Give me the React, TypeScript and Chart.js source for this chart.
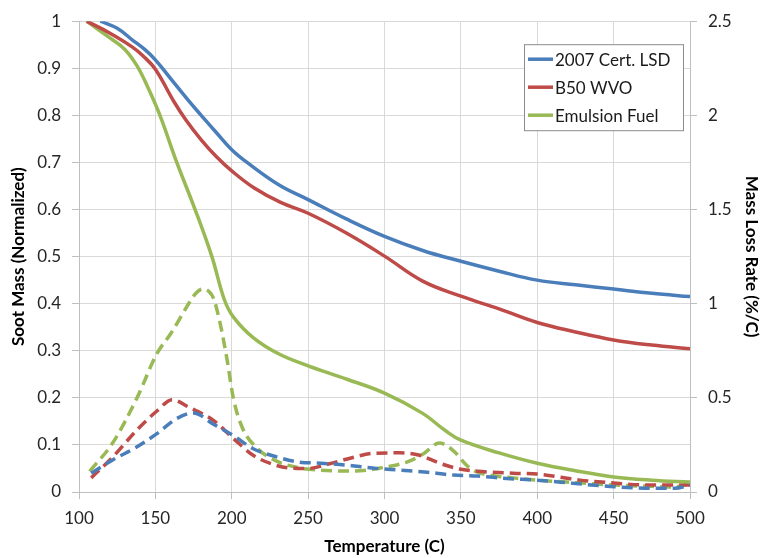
import React, { useEffect, useRef } from "react";
import { Chart, registerables } from "chart.js";

Chart.register(...registerables);

// Soot mass (normalized), left axis
const lsdT = [114, 125, 135, 143, 150, 160, 172, 180, 190, 200, 210, 231, 250, 275, 300, 325, 350, 375, 400, 425, 450, 475, 500];
const lsdMass = [1.0, 0.985, 0.96, 0.94, 0.918, 0.878, 0.83, 0.8, 0.763, 0.727, 0.7, 0.652, 0.621, 0.58, 0.543, 0.513, 0.49, 0.469, 0.45, 0.44, 0.431, 0.422, 0.415];

const b50T = [105, 120, 135, 142, 150, 162, 170, 180, 190, 200, 215, 232, 250, 275, 300, 325, 350, 375, 400, 425, 450, 475, 500];
const b50Mass = [1.0, 0.975, 0.945, 0.926, 0.898, 0.83, 0.79, 0.748, 0.712, 0.682, 0.645, 0.615, 0.592, 0.55, 0.501, 0.448, 0.416, 0.389, 0.36, 0.34, 0.323, 0.312, 0.304];

const emuT = [105, 120, 130, 138, 145, 153, 164, 176, 187, 195, 201, 214, 231, 250, 275, 300, 325, 340, 350, 375, 400, 425, 450, 475, 500];
const emuMass = [1.0, 0.965, 0.94, 0.905, 0.86, 0.8, 0.7, 0.6, 0.5, 0.41, 0.372, 0.328, 0.293, 0.268, 0.24, 0.21, 0.167, 0.13, 0.11, 0.083, 0.061, 0.045, 0.032, 0.025, 0.021];

// Mass loss rate (%/C), right axis
const lsdRateT = [108, 122, 138, 151, 164, 175, 188, 201, 214, 228, 243, 258, 275, 292, 310, 328, 345, 361, 380, 400, 425, 450, 475, 490, 500];
const lsdRate = [0.1, 0.17, 0.24, 0.31, 0.39, 0.42, 0.36, 0.3, 0.23, 0.19, 0.16, 0.153, 0.143, 0.127, 0.116, 0.105, 0.09, 0.085, 0.072, 0.063, 0.045, 0.028, 0.02, 0.02, 0.037];

const b50RateT = [108, 122, 138, 151, 161, 172, 188, 201, 214, 226, 238, 250, 264, 280, 292, 310, 323, 336, 349, 361, 384, 400, 428, 450, 472, 500];
const b50Rate = [0.075, 0.185, 0.33, 0.43, 0.49, 0.45, 0.38, 0.285, 0.195, 0.15, 0.127, 0.125, 0.15, 0.185, 0.205, 0.208, 0.195, 0.153, 0.122, 0.11, 0.1, 0.095, 0.063, 0.048, 0.037, 0.037];

const emuRateT = [107, 122, 138, 151, 160, 173, 177, 181, 185, 188, 192, 197, 201, 207, 217, 229, 243, 258, 280, 297, 315, 325, 336, 345, 354, 361, 384, 400, 425, 450, 475, 489, 500];
const emuRate = [0.11, 0.26, 0.5, 0.735, 0.84, 1.015, 1.06, 1.078, 1.065, 1.03, 0.91, 0.7, 0.5, 0.34, 0.23, 0.165, 0.13, 0.116, 0.111, 0.127, 0.16, 0.2, 0.26, 0.22, 0.14, 0.105, 0.075, 0.063, 0.05, 0.037, 0.03, 0.026, 0.045];

const seriesNames = ["2007 Cert. LSD", "B50 WVO", "Emulsion Fuel"];
const seriesColors = ["#4A7EBB", "#BE4B48", "#98B954"];

const xTicks = { min: 100, max: 500, step: 50 };
const yLeftTicks = { min: 0, max: 1, step: 0.1 };
const yRightTicks = { min: 0, max: 2.5, step: 0.5 };

const FONT = "Lato, 'Open Sans', sans-serif";

const zip = (xs: number[], ys: number[]) => xs.map((x, i) => ({ x, y: ys[i] }));

const legendPlugin = {
  id: "boxLegend",
  afterDraw(chart: any) {
    const { ctx, chartArea } = chart;
    const w = 159;
    const h = 86;
    const left = chartArea.right - 7 - w;
    const top = chartArea.top + 23;
    ctx.save();
    ctx.fillStyle = "#ffffff";
    ctx.fillRect(left, top, w, h);
    ctx.strokeStyle = "#8c8c8c";
    ctx.lineWidth = 1;
    ctx.strokeRect(left + 0.5, top + 0.5, w, h);
    ctx.font = `17px ${FONT}`;
    ctx.textBaseline = "middle";
    ctx.textAlign = "left";
    for (let i = 0; i < 3; i++) {
      const ds = chart.data.datasets[i];
      const cy = top + 15 + i * 28;
      ctx.strokeStyle = ds.borderColor;
      ctx.lineWidth = 3.5;
      ctx.beginPath();
      ctx.moveTo(left + 4, cy);
      ctx.lineTo(left + 29, cy);
      ctx.stroke();
      ctx.fillStyle = "#1a1a1a";
      ctx.fillText(ds.label, left + 31, cy + 1);
    }
    ctx.restore();
  },
};

export default function App() {
  const ref = useRef<HTMLCanvasElement | null>(null);

  useEffect(() => {
    if (!ref.current) return;
    const solid = (i: number, xs: number[], ys: number[]) => ({
      label: seriesNames[i],
      data: zip(xs, ys),
      borderColor: seriesColors[i],
      backgroundColor: seriesColors[i],
      borderWidth: 3.5,
      pointRadius: 0,
      tension: 0.4,
      yAxisID: "y",
    });
    const dashed = (i: number, xs: number[], ys: number[]) => ({
      label: seriesNames[i] + " rate",
      data: zip(xs, ys),
      borderColor: seriesColors[i],
      backgroundColor: seriesColors[i],
      borderWidth: 3.5,
      borderDash: [11, 6],
      pointRadius: 0,
      cubicInterpolationMode: "monotone" as const,
      yAxisID: "y1",
    });
    const chart = new Chart(ref.current, {
      type: "line",
      data: {
        datasets: [
          solid(0, lsdT, lsdMass),
          solid(1, b50T, b50Mass),
          solid(2, emuT, emuMass),
          dashed(0, lsdRateT, lsdRate),
          dashed(1, b50RateT, b50Rate),
          dashed(2, emuRateT, emuRate),
        ],
      },
      options: {
        animation: false,
        responsive: false,
        layout: { padding: { top: 19, left: 0, right: 0, bottom: 0 } },
        plugins: { legend: { display: false }, tooltip: { enabled: false } },
        scales: {
          x: {
            type: "linear",
            min: xTicks.min,
            max: xTicks.max,
            afterFit: (s: any) => { s.height = 66; },
            ticks: { stepSize: xTicks.step, font: { family: FONT, size: 17 }, color: "#262626", padding: 9, maxRotation: 0 },
            grid: { color: "#d9d9d9", tickColor: "#bfbfbf", tickLength: 7 },
            border: { color: "#bfbfbf" },
            title: { display: true, text: "Temperature (C)", font: { family: FONT, size: 17, weight: "bold" }, color: "#000", padding: { top: 0, bottom: 1 } },
          },
          y: {
            type: "linear",
            position: "left",
            min: yLeftTicks.min,
            max: yLeftTicks.max,
            afterFit: (s: any) => { s.width = 79; },
            ticks: { stepSize: yLeftTicks.step, font: { family: FONT, size: 17 }, color: "#262626", padding: 11, callback: (v: any) => String(Math.round(Number(v) * 10) / 10) },
            grid: { color: "#d9d9d9", tickColor: "#bfbfbf", tickLength: 7 },
            border: { color: "#bfbfbf" },
            title: { display: true, text: "Soot Mass (Normalized)", font: { family: FONT, size: 17, weight: "bold" }, color: "#000", padding: { top: 8, bottom: 0 } },
          },
          y1: {
            type: "linear",
            position: "right",
            min: yRightTicks.min,
            max: yRightTicks.max,
            afterFit: (s: any) => { s.width = 72; },
            ticks: { stepSize: yRightTicks.step, font: { family: FONT, size: 17 }, color: "#262626", padding: 11, callback: (v: any) => String(Math.round(Number(v) * 10) / 10) },
            grid: { drawOnChartArea: false, tickColor: "#bfbfbf", tickLength: 7 },
            border: { color: "#bfbfbf" },
            title: { display: true, text: "Mass Loss Rate (%/C)", font: { family: FONT, size: 17, weight: "bold" }, color: "#000", padding: { top: 0, bottom: 0 } },
          },
        },
      },
      plugins: [legendPlugin],
    });
    return () => chart.destroy();
  }, []);

  return (
    <div style={{ position: "fixed", left: 0, top: 0, width: 762, height: 558, background: "#fff" }}>
      <canvas ref={ref} width={762} height={558} style={{ display: "block" }} />
    </div>
  );
}
